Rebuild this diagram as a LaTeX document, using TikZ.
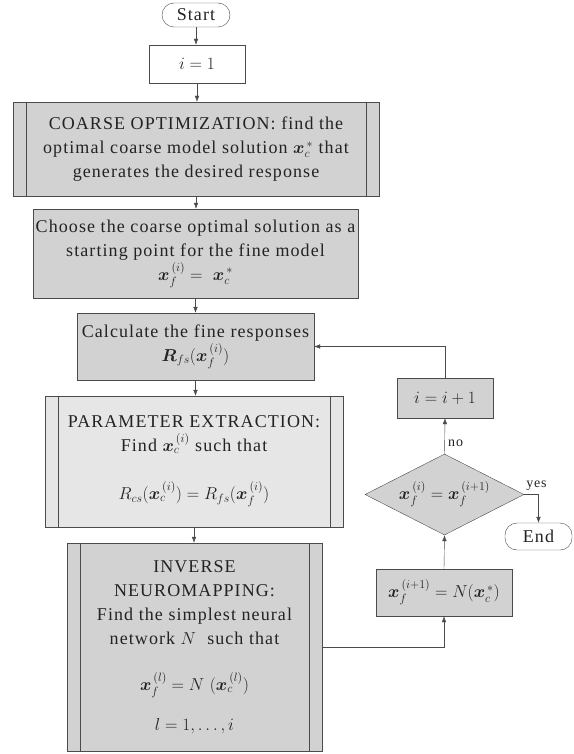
\documentclass[tikz,border=0pt]{standalone}
\usepackage{amsmath}
\usepackage{fontspec}
\setmainfont{Liberation Serif}[LetterSpace=6]
\usetikzlibrary{arrows,arrows.meta,shapes,positioning}
\definecolor{fcgray}{RGB}{210,210,210}
\definecolor{fclight}{RGB}{230,230,230}
\definecolor{fcline}{RGB}{75,75,75}
\definecolor{fctext}{RGB}{35,35,35}
\tikzstyle{arrow} = [thin,-{Latex[length=6pt,width=4.5pt]},color=fcline]
\tikzstyle{block} = [draw=fcline, fill=fcgray, thin, inner sep=0pt, align=center, text=fctext, font=\fontsize{18}{24}\selectfont]
\tikzstyle{process} = [block, path picture={
    \draw[fcline] ([xshift=13pt]path picture bounding box.north west) -- ([xshift=13pt]path picture bounding box.south west);
    \draw[fcline] ([xshift=-13pt]path picture bounding box.north east) -- ([xshift=-13pt]path picture bounding box.south east);}]
\tikzstyle{terminal} = [block, fill=white, rounded corners=12pt]
\tikzstyle{decision} = [block, diamond, aspect=2]
\tikzstyle{answer} = [text=fctext, font=\fontsize{14}{16}\selectfont]

\begin{document}
\begin{tikzpicture}[x=1pt,y=-1pt]
\useasboundingbox (0,0) rectangle (573,754);

% Main column
\node[terminal, minimum width=68pt, minimum height=24pt] (start) at (196,15) {Start};
\node[block, fill=white, minimum width=96pt, minimum height=38pt] (init) at (197,64) {$i = 1$};
\node[process, minimum width=366pt, minimum height=94pt] (coarse) at (196,149)
    {COARSE OPTIMIZATION: find the\\
     optimal coarse model solution $\boldsymbol{x}_c^{\,*}$ that\\
     generates the desired response};
\node[block, minimum width=325pt, minimum height=89pt] (choose) at (195.5,253.5)
    {Choose the coarse optimal solution as a\\
     starting point for the fine model\\
     $\boldsymbol{x}_f^{\,(i)} = \ \boldsymbol{x}_c^{\,*}$};
\node[block, minimum width=237pt, minimum height=67pt] (fine) at (195.5,346.5)
    {Calculate the fine responses\\
     $\boldsymbol{R}_{fs}(\boldsymbol{x}_f^{\,(i)})$};
\node[process, fill=fclight, minimum width=298pt, minimum height=131pt] (extract) at (194,461.5)
    {PARAMETER EXTRACTION:\\
     Find $\boldsymbol{x}_c^{\,(i)}$ such that\\[24pt]
     $R_{cs}(\boldsymbol{x}_c^{\,(i)}) = R_{fs}(\boldsymbol{x}_f^{\,(i)})$};
\node[process, minimum width=255pt, minimum height=208pt] (neuro) at (194.5,647)
    {INVERSE\\
     NEUROMAPPING:\\
     Find the simplest neural\\
     network $N$\ \ such that\\[22pt]
     $\boldsymbol{x}_f^{\,(l)} = N\ (\boldsymbol{x}_c^{\,(l)})$\\[16pt]
     $l = 1,\ldots, i$};

% Right column
\node[block, minimum width=96pt, minimum height=40pt] (incr) at (445,398) {$i = i + 1$};
\node[decision, minimum width=159pt, minimum height=81pt] (check) at (444.5,494.5)
    {$\boldsymbol{x}_f^{\,(i)} = \boldsymbol{x}_f^{\,(i+1)}$};
\node[block, minimum width=136pt, minimum height=47pt] (update) at (444,592.5)
    {$\boldsymbol{x}_f^{\,(i+1)} = N(\boldsymbol{x}_c^{\,*})$};
\node[terminal, minimum width=67pt, minimum height=27pt] (end) at (538.5,536.5) {End};

% Connectors
\foreach \a/\b in {start/init, init/coarse, coarse/choose, choose/fine, fine/extract, extract/neuro}
    \draw[arrow] (\a.south) -- (\a.south |- \b.north);
\draw[arrow] (neuro.east) -| (update.south);
\draw[arrow] (update.north) -- (check.south);
\draw[arrow] (check.north) -- node[answer, right, pos=0.3] (lblno) {no} (incr.south);
\draw[arrow] (incr.north) |- (fine.east);
\draw[arrow] (check.east) -| node[answer, above, pos=0.5, xshift=-2pt] (lblyes) {yes} (end.north);
\end{tikzpicture}
\end{document}
